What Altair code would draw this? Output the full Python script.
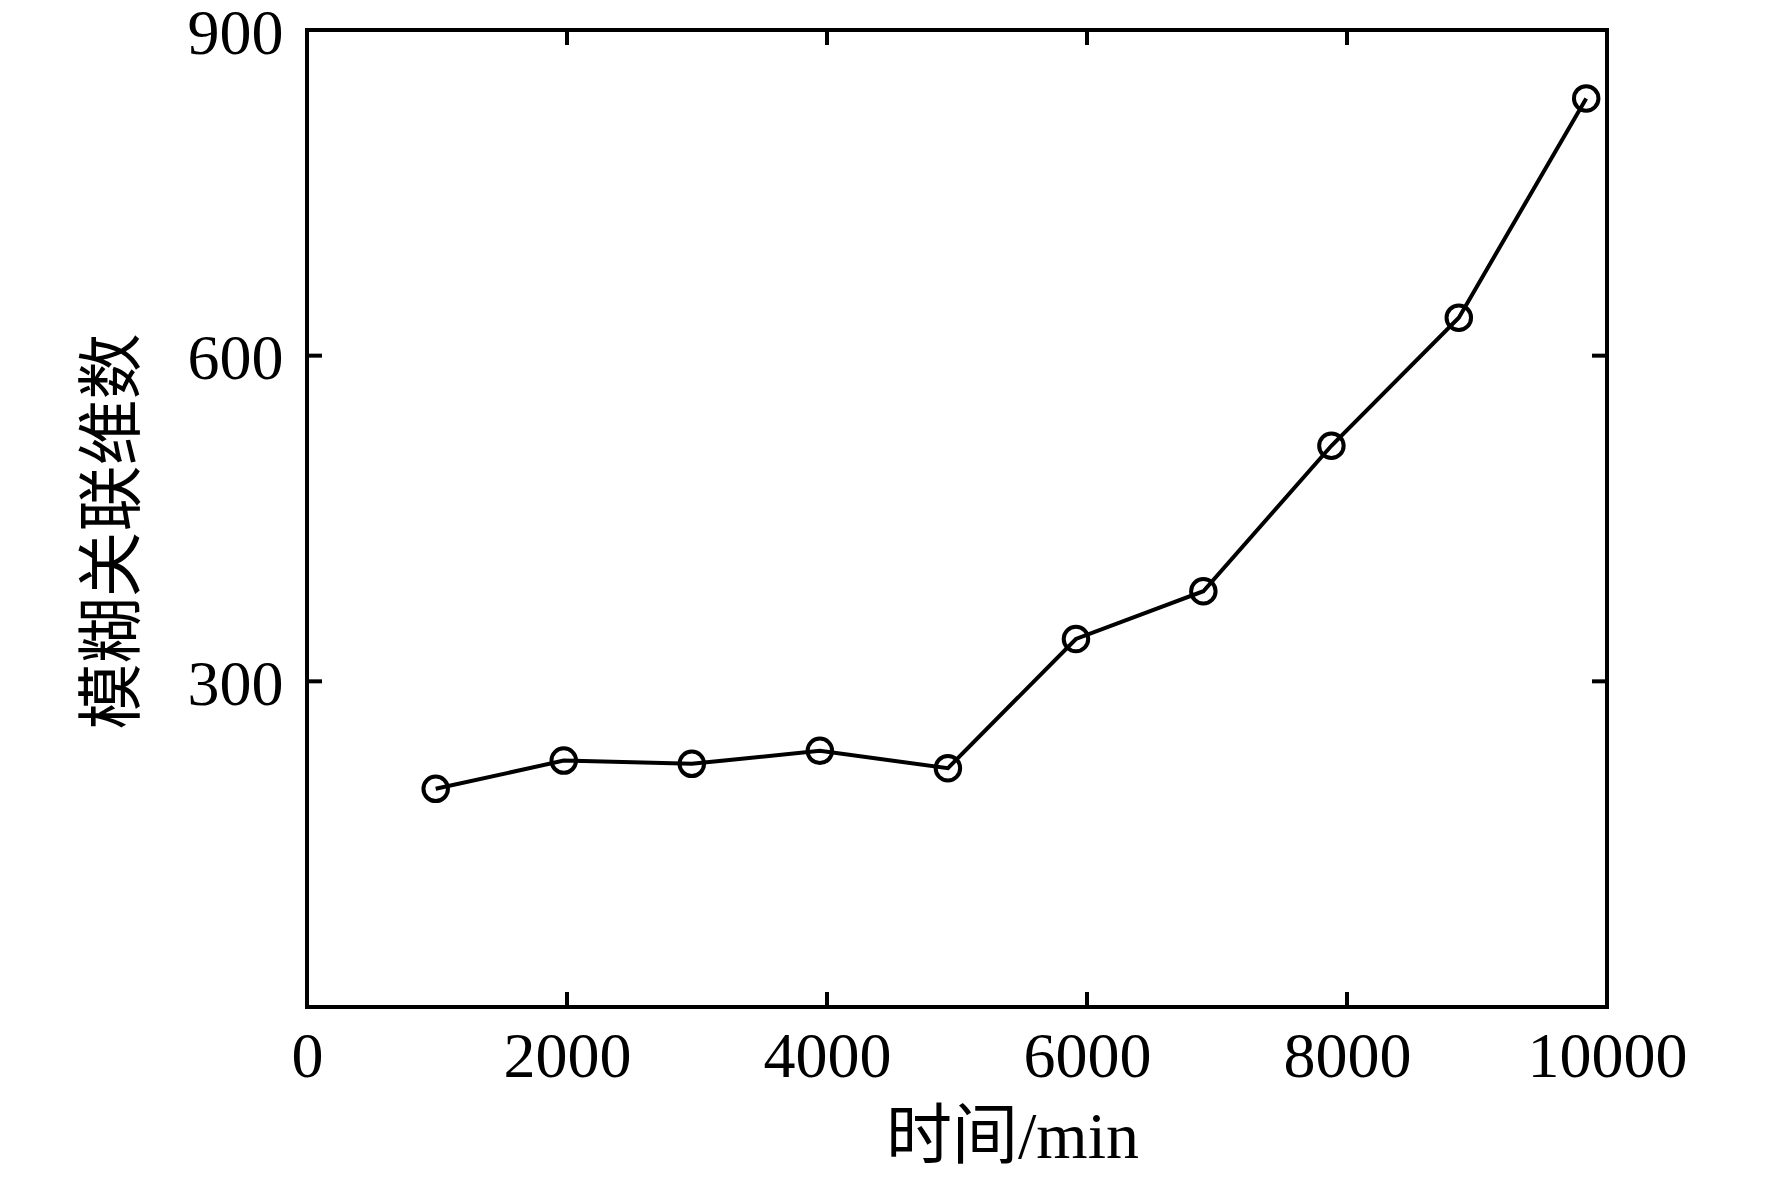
import altair as alt
import pandas as pd

time_min = [990, 1975, 2960, 3945, 4930, 5915, 6895, 7880, 8860, 9840]
dimension = [201, 227, 224, 236, 220, 339, 383, 517, 635, 837]
x_label_values = [0, 2000, 4000, 6000, 8000, 10000]
y_label_values = [300, 600, 900]
x_inner_ticks = [2000, 4000, 6000, 8000]
y_inner_ticks = [300, 600]

W, H = 1300, 977
TICK = 15
FONT = "Liberation Serif, Noto Sans CJK SC"

df = pd.DataFrame({"t": time_min, "d": dimension})
xt = pd.DataFrame({"t": x_inner_ticks})
yt = pd.DataFrame({"d": y_inner_ticks})

xscale = alt.Scale(domain=[0, 10000], nice=False, zero=False)
yscale = alt.Scale(domain=[0, 900], nice=False, zero=False)

x_axis = alt.Axis(
    values=x_label_values, format="d", title="时间/min", grid=False, domain=False, ticks=False,
    tickSize=0, labelPadding=18, labelFlush=False, labelFont=FONT, labelFontSize=64,
    labelColor="black", labelFontWeight="normal",
    titleFont=FONT, titleFontSize=66, titleColor="black", titleFontWeight="normal",
    titleX=705, titleY=130, titleBaseline="middle", titleAlign="center",
)
y_axis = alt.Axis(
    values=y_label_values, format="d", title="模糊关联维数", grid=False, domain=False, ticks=False,
    tickSize=0, labelPadding=24, labelOffset=4, labelFlush=False, labelFont=FONT, labelFontSize=64,
    labelColor="black", labelFontWeight="normal",
    titleFont=FONT, titleFontSize=66, titleColor="black", titleFontWeight="normal",
    titleX=-194, titleY=501, titleBaseline="middle", titleAlign="center", titleAngle=-90,
)

X = lambda: alt.X("t:Q", scale=xscale, axis=x_axis)
Y = lambda: alt.Y("d:Q", scale=yscale, axis=y_axis)

line = alt.Chart(df).mark_line(color="black", strokeWidth=4).encode(x=X(), y=Y())
points = alt.Chart(df).mark_point(
    shape="circle", filled=False, size=600, stroke="black", strokeWidth=4, opacity=1
).encode(x=X(), y=Y())

tick_style = dict(color="black", strokeWidth=4)
bottom_ticks = alt.Chart(xt).mark_rule(**tick_style).encode(
    x=X(), y=alt.value(H), y2=alt.value(H - TICK))
top_ticks = alt.Chart(xt).mark_rule(**tick_style).encode(
    x=X(), y=alt.value(0), y2=alt.value(TICK))
left_ticks = alt.Chart(yt).mark_rule(**tick_style).encode(
    y=Y(), x=alt.value(0), x2=alt.value(TICK))
right_ticks = alt.Chart(yt).mark_rule(**tick_style).encode(
    y=Y(), x=alt.value(W), x2=alt.value(W - TICK))

chart = alt.layer(
    line, points, bottom_ticks, top_ticks, left_ticks, right_ticks
).properties(
    width=W, height=H,
    autosize=alt.AutoSizeParams(type="none"),
    padding={"left": 299, "top": 22, "right": 150, "bottom": 165},
    background="white",
).configure_view(
    stroke="black", strokeWidth=4
)

chart.save("out.html", embed_options={"renderer": "svg", "actions": False})
